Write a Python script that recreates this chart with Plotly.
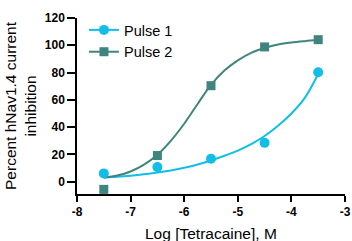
import plotly.graph_objects as go

# Data (log molar concentration vs percent inhibition)
log_conc = [-7.5, -6.5, -5.5, -4.5, -3.5]
pulse1 = [6.1, 10.7, 16.8, 28.5, 80.2]
pulse2 = [-5.6, 19.2, 70.4, 98.8, 104.1]

# Fitted curves
fit_x = [-7.5, -7.25, -7.0, -6.75, -6.5, -6.25, -6.0, -5.75, -5.5, -5.25,
         -5.0, -4.75, -4.5, -4.25, -4.0, -3.75, -3.5]
fit1 = [3.0, 3.6, 4.4, 5.4, 6.7, 8.3, 10.2, 12.6, 15.6, 19.0,
        22.8, 27.5, 33.5, 41.0, 50.0, 61.5, 79.0]
fit2 = [3.0, 4.5, 7.5, 12.5, 19.8, 30.0, 42.5, 57.0, 71.0, 81.5,
        89.0, 94.5, 98.0, 100.5, 102.0, 103.0, 103.8]

x_ticks = [-8, -7, -6, -5, -4, -3]
y_ticks = [0, 20, 40, 60, 80, 100, 120]

c1 = "#12BDE8"
c2 = "#3F857D"
font = "Liberation Sans, Arial, sans-serif"

fig = go.Figure()
fig.add_trace(go.Scatter(x=fit_x, y=fit1, mode="lines", line=dict(color=c1, width=2, shape="spline"),
                         showlegend=False, hoverinfo="skip"))
fig.add_trace(go.Scatter(x=fit_x, y=fit2, mode="lines", line=dict(color=c2, width=2, shape="spline"),
                         showlegend=False, hoverinfo="skip"))
fig.add_trace(go.Scatter(x=log_conc, y=pulse1, mode="markers", name="Pulse 1", showlegend=False,
                         marker=dict(symbol="circle", size=10, color=c1)))
fig.add_trace(go.Scatter(x=log_conc, y=pulse2, mode="markers", name="Pulse 2", showlegend=False,
                         marker=dict(symbol="square", size=9, color=c2)))
# legend entries (symbol + line)
fig.add_trace(go.Scatter(x=[None], y=[None], mode="lines+markers", name="Pulse 1",
                         line=dict(color=c1, width=2), marker=dict(symbol="circle", size=10, color=c1)))
fig.add_trace(go.Scatter(x=[None], y=[None], mode="lines+markers", name="Pulse 2",
                         line=dict(color=c2, width=2), marker=dict(symbol="square", size=9, color=c2)))

fig.update_layout(
    width=352, height=241,
    margin=dict(l=77, r=7, t=18, b=47, autoexpand=False),
    plot_bgcolor="white", paper_bgcolor="white",
    font=dict(family=font, color="black"),
    legend=dict(x=0.026, y=1.023, xanchor="left", yanchor="top",
                font=dict(size=14.5, family=font), bgcolor="rgba(0,0,0,0)",
                itemwidth=30),
    annotations=[dict(text="Log [Tetracaine], M", x=0.5, y=-0.222, xref="paper", yref="paper",
                      xanchor="center", yanchor="middle", showarrow=False,
                      font=dict(size=15.5, family=font, color="black"))],
)
fig.update_xaxes(range=[-8, -3], tickvals=x_ticks, ticktext=[f"<b>{v}</b>" for v in x_ticks],
                 showgrid=False, zeroline=False, showline=True, linecolor="black", linewidth=1.5,
                 ticks="outside", ticklen=6, tickwidth=1.5, tickcolor="black",
                 tickfont=dict(size=12, family=font))
fig.update_yaxes(range=[-9, 120], tickvals=y_ticks, ticktext=[f"<b>{v}</b>" for v in y_ticks],
                 showgrid=False, zeroline=False, showline=True, linecolor="black", linewidth=1.5,
                 ticks="outside", ticklen=8, tickwidth=1.5, tickcolor="black",
                 tickfont=dict(size=12, family=font),
                 title=dict(text="Percent hNav1.4 current<br>inhibition", font=dict(size=15.5, family=font), standoff=4))

fig.write_html("out.html", config={"displayModeBar": False},
               post_script="document.body.style.margin='0';")
